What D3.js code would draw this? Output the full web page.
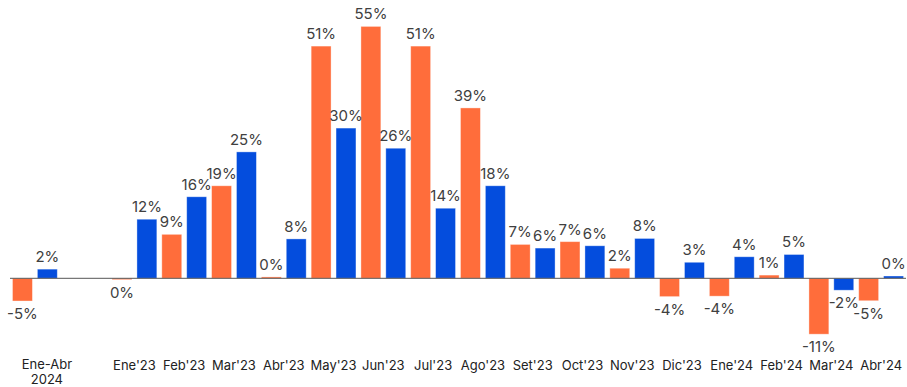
<!DOCTYPE html>
<meta charset="utf-8">
<head>
    <title>Variación mensual</title>
    <style>
        body { margin: 0; background: #fff; }
        .val { font-family: Inter, "Noto Sans", sans-serif; font-size: 15px; fill: #404040; text-anchor: middle; }
        .tick text { font-family: Inter, "Noto Sans", sans-serif; font-size: 13px; fill: #222; }
    </style>
</head>
<script src="https://d3js.org/d3.v7.min.js"></script>
<svg id="chart" width="907" height="387"></svg>
<script>
    // categories (the second slot is an empty gap)
    const categories = ["Ene-Abr 2024", "", "Ene'23", "Feb'23", "Mar'23", "Abr'23", "May'23", "Jun'23",
        "Jul'23", "Ago'23", "Set'23", "Oct'23", "Nov'23", "Dic'23", "Ene'24", "Feb'24", "Mar'24", "Abr'24"]

    // bar heights (%)
    const orangeValues = [-4.96, null, -0.3, 9.6, 20.2, 0.3, 50.7, 55.0, 50.7, 37.2, 7.4, 8.0, 2.2, -4.0, -3.9, 0.7, -12.2, -4.9]
    const blueValues = [2.0, null, 12.9, 17.8, 27.6, 8.6, 32.8, 28.4, 15.3, 20.2, 6.6, 7.1, 8.7, 3.5, 4.7, 5.2, -2.6, 0.5]

    // printed labels
    const orangeLabels = ["-5%", "", "0%", "9%", "19%", "0%", "51%", "55%", "51%", "39%", "7%", "7%", "2%", "-4%", "-4%", "1%", "-11%", "-5%"]
    const blueLabels = ["2%", "", "12%", "16%", "25%", "8%", "30%", "26%", "14%", "18%", "6%", "6%", "8%", "3%", "4%", "5%", "-2%", "0%"]

    const svg = d3.select("#chart")

    const x = d3.scaleBand()
        .domain(categories.map((d, i) => i))
        .range([10, 906])
        .padding(0)

    const xSub = d3.scaleBand()
        .domain(["o", "b"])
        .range([0, x.bandwidth()])
        .paddingInner(0.2)
        .paddingOuter(0.1)

    const y = d3.scaleLinear()
        .domain([-20, 60])
        .range([369.9, 3.5])

    const colors = { o: "#ff6d3b", b: "#044ddd" }

    // flatten into bars
    let bars = []
    categories.forEach(function(c, i) {
        if (orangeValues[i] != null) bars.push({ i: i, k: "o", v: orangeValues[i], label: orangeLabels[i] })
        if (blueValues[i] != null) bars.push({ i: i, k: "b", v: blueValues[i], label: blueLabels[i] })
    })

    svg.append("g")
        .selectAll("rect")
        .data(bars)
        .join("rect")
        .attr("x", d => x(d.i) + xSub(d.k))
        .attr("width", xSub.bandwidth())
        .attr("y", d => y(Math.max(0, d.v)))
        .attr("height", d => Math.abs(y(d.v) - y(0)))
        .attr("fill", d => colors[d.k])
        .attr("stroke", "rgba(255,255,255,0.45)")
        .attr("stroke-width", 0.8)

    // zero line
    svg.append("line")
        .attr("x1", x.range()[0])
        .attr("x2", x.range()[1])
        .attr("y1", y(0))
        .attr("y2", y(0))
        .attr("stroke", "#555")
        .attr("stroke-width", 1)

    // value labels
    svg.append("g")
        .selectAll("text")
        .data(bars)
        .join("text")
        .attr("class", "val")
        .attr("x", d => x(d.i) + xSub(d.k) + xSub.bandwidth() / 2)
        .attr("y", d => d.v >= 0 ? y(d.v) - 7 : y(d.v) + 18)
        .text(d => d.label)

    // x axis
    const xAxis = svg.append("g")
        .attr("transform", "translate(0,358)")
        .call(d3.axisBottom(x).tickSize(0).tickPadding(3).tickFormat(i => categories[i]))

    xAxis.select(".domain").remove()

    // wrap the first label on two lines
    xAxis.selectAll(".tick text")
        .each(function(i) {
            const words = categories[i].split(" ")
            if (words.length < 2) return
            const t = d3.select(this).text(null).attr("dy", null)
            words.forEach(function(w, j) {
                t.append("tspan")
                    .attr("x", 12)
                    .attr("dy", j == 0 ? "0.6em" : "1.2em")
                    .text(w)
            })
        })
</script>
